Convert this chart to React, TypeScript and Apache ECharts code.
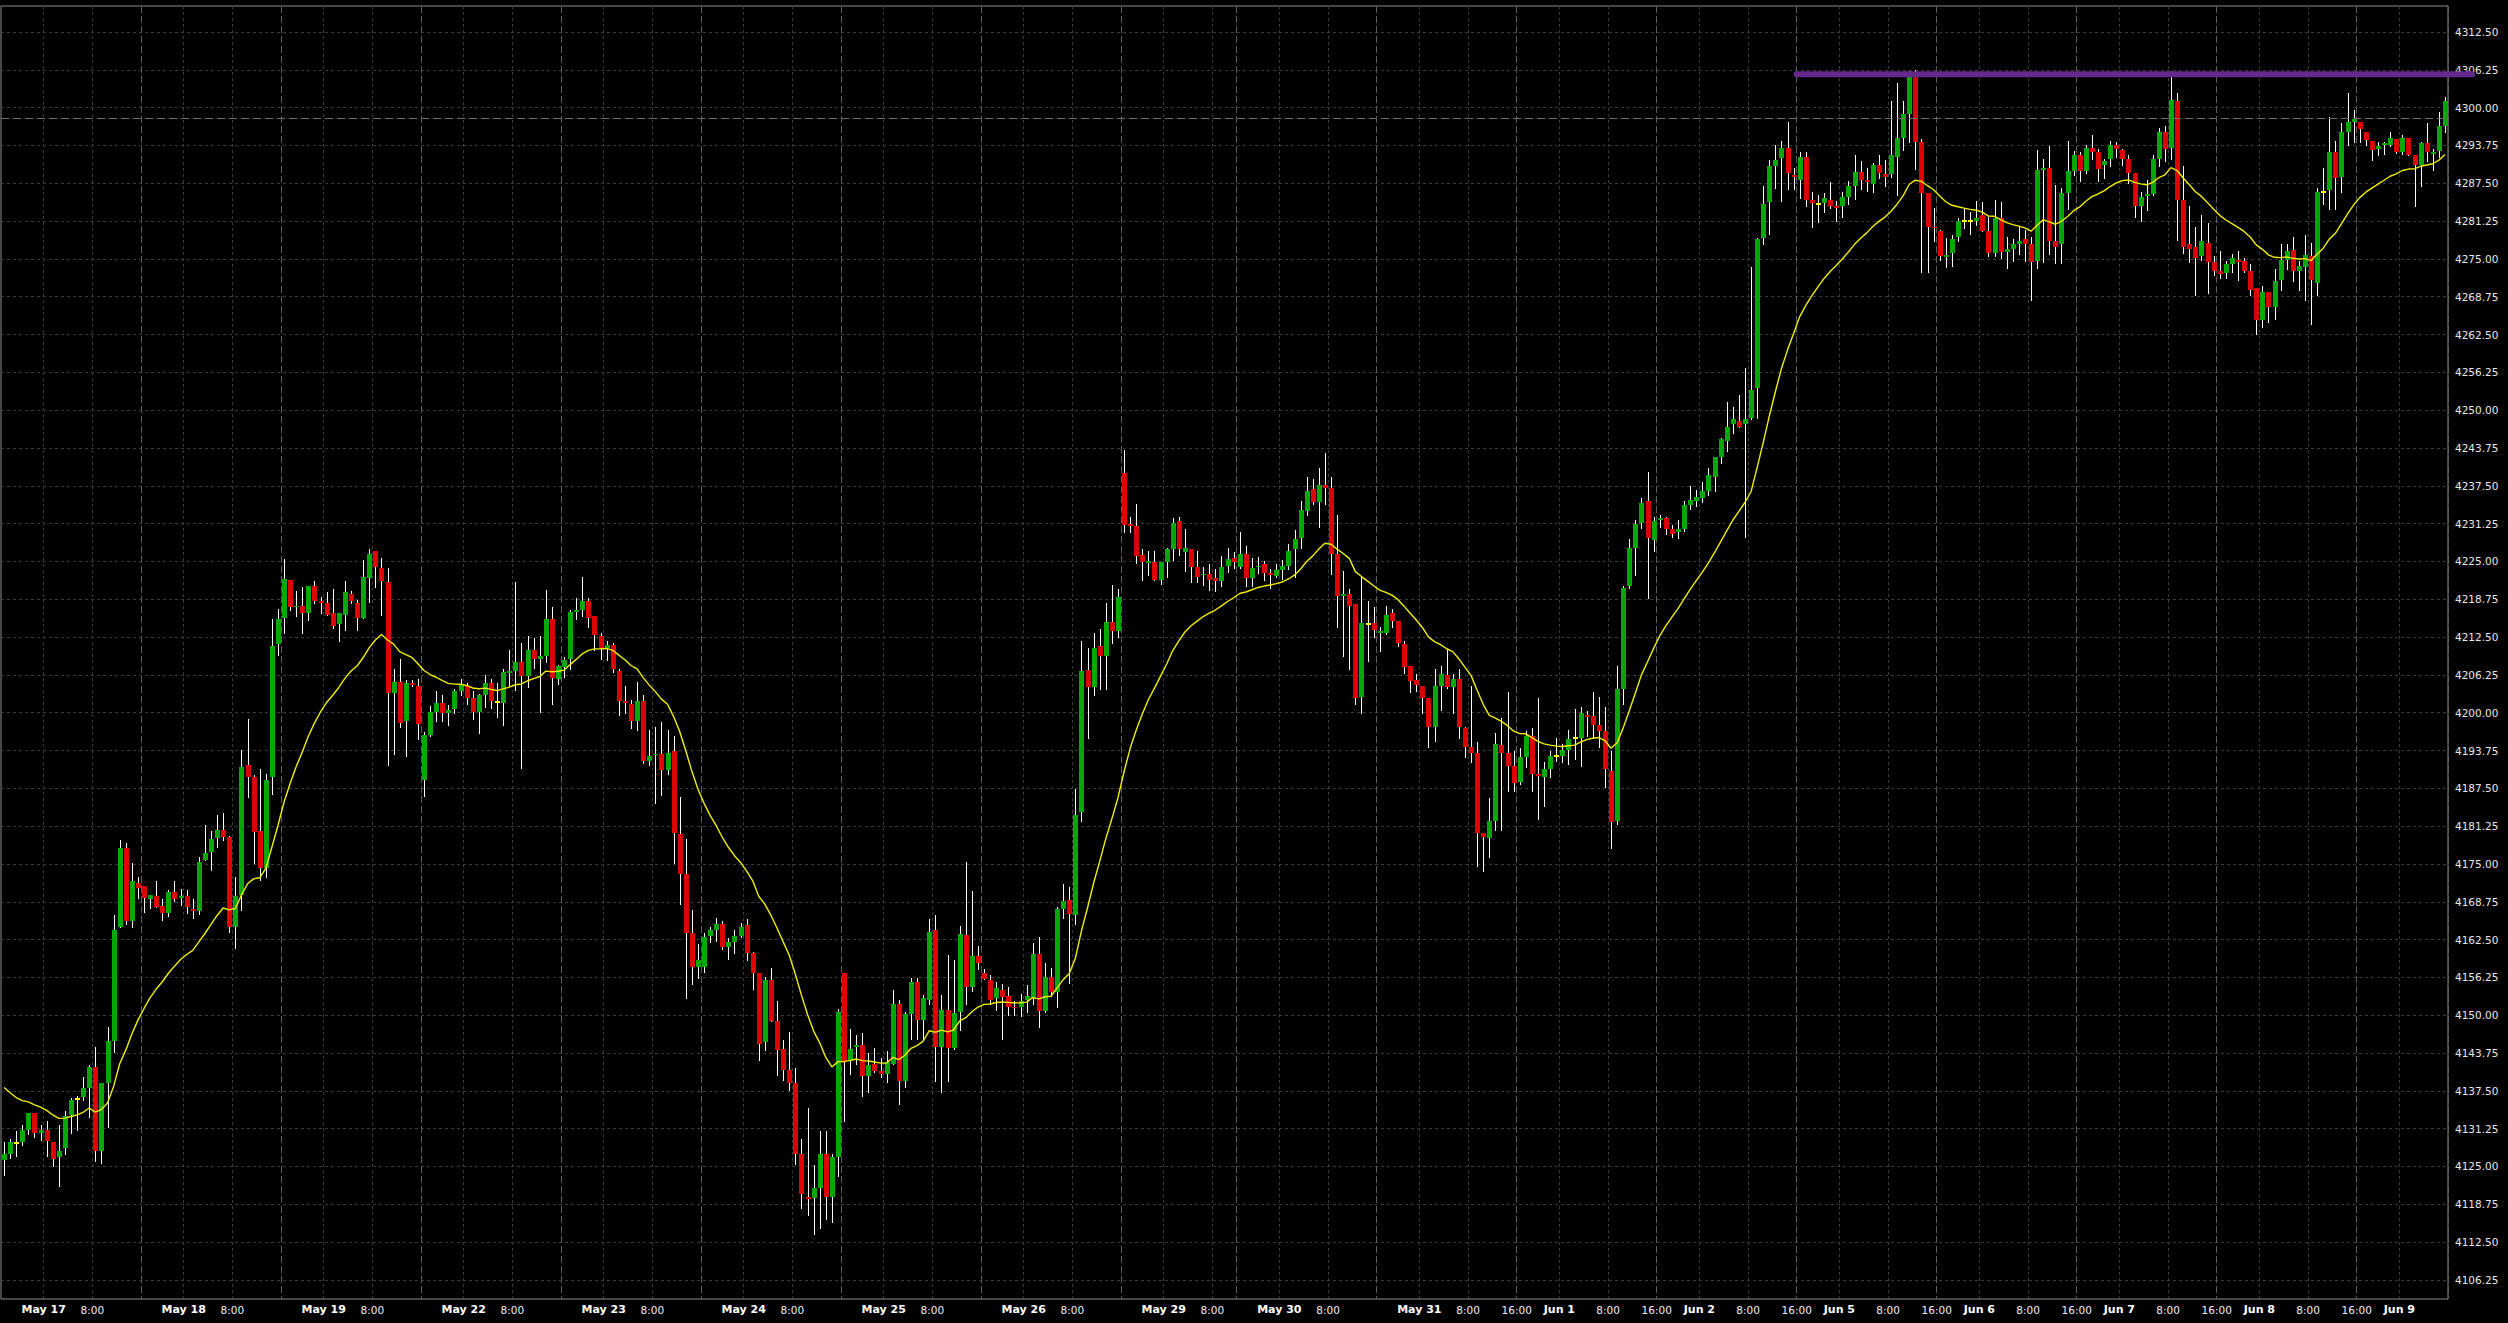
import React, { useEffect, useRef } from 'react';
import * as echarts from 'echarts';

// ---- OHLC values (hourly bars, left to right) ----
const opens = [
  4126.1, 4127.0, 4128.9, 4129.0, 4131.0, 4133.8, 4130.6, 4131.0, 4129.0, 4126.5,
  4128.1, 4133.5, 4136.1, 4136.5, 4137.9, 4141.4, 4127.5, 4138.8, 4145.7, 4164.6,
  4177.6, 4165.6, 4171.9, 4171.3, 4169.2, 4169.7, 4168.1, 4166.9, 4170.3, 4169.4,
  4169.7, 4167.6, 4167.2, 4175.7, 4176.9, 4179.3, 4180.6, 4179.4, 4164.6, 4169.9,
  4191.4, 4189.3, 4180.4, 4174.4, 4189.3, 4211.3, 4215.6, 4221.9, 4217.4, 4217.7,
  4216.5, 4221.0, 4218.4, 4218.1, 4216.4, 4214.7, 4216.1, 4219.6, 4218.1, 4215.6,
  4222.2, 4226.7, 4223.9, 4221.6, 4203.2, 4205.0, 4198.6, 4204.9, 4204.4, 4188.9,
  4196.3, 4200.1, 4201.6, 4200.0, 4200.6, 4203.6, 4204.4, 4202.4, 4200.1, 4203.0,
  4204.9, 4201.8, 4201.6, 4206.6, 4206.9, 4208.3, 4206.0, 4210.3, 4208.8, 4209.4,
  4215.5, 4205.6, 4207.6, 4208.9, 4216.6, 4217.0, 4218.5, 4215.9, 4212.7, 4210.7,
  4211.2, 4206.9, 4202.0, 4201.4, 4198.7, 4202.0, 4192.0, 4193.0, 4193.2, 4190.5,
  4193.7, 4180.0, 4173.4, 4163.6, 4157.9, 4157.9, 4163.1, 4164.1, 4165.1, 4161.2,
  4162.1, 4163.1, 4164.9, 4160.3, 4156.9, 4145.6, 4155.9, 4149.0, 4144.4, 4140.9,
  4138.8, 4127.1, 4120.0, 4119.8, 4121.4, 4127.1, 4120.0, 4126.6, 4156.9, 4142.5,
  4144.7, 4145.0, 4139.9, 4141.9, 4140.8, 4140.3, 4142.0, 4151.9, 4139.1, 4150.2,
  4155.5, 4149.2, 4152.5, 4164.1, 4144.7, 4150.9, 4144.6, 4150.5, 4163.2, 4154.7,
  4159.8, 4156.9, 4155.9, 4152.8, 4154.2, 4153.2, 4151.4, 4151.4, 4152.5, 4152.9,
  4160.1, 4150.7, 4156.4, 4153.9, 4167.5, 4169.0, 4166.6, 4183.6, 4207.1, 4204.2,
  4211.0, 4209.3, 4215.0, 4213.5, 4239.6, 4231.2, 4230.9, 4226.1, 4224.7, 4224.9,
  4222.0, 4224.9, 4227.0, 4231.7, 4226.5, 4227.0, 4224.1, 4222.7, 4223.0, 4222.2,
  4221.7, 4224.2, 4225.5, 4224.1, 4226.3, 4222.3, 4224.0, 4224.5, 4223.1, 4222.6,
  4223.6, 4224.2, 4227.0, 4228.9, 4233.3, 4237.0, 4234.8, 4237.7, 4237.1, 4226.2,
  4219.3, 4219.6, 4218.0, 4202.6, 4214.6, 4214.8, 4213.2, 4213.2, 4216.5, 4215.2,
  4211.3, 4207.7, 4205.4, 4204.4, 4202.4, 4197.7, 4204.4, 4206.2, 4204.2, 4205.6,
  4197.5, 4194.3, 4193.4, 4180.2, 4179.3, 4182.1, 4194.7, 4193.3, 4191.2, 4188.5,
  4192.7, 4196.2, 4189.9, 4189.4, 4190.7, 4192.8, 4192.8, 4193.8, 4195.8, 4195.9,
  4199.7, 4199.4, 4198.0, 4197.0, 4190.4, 4182.1, 4203.9, 4221.0, 4227.3, 4231.3,
  4235.0, 4228.5, 4231.8, 4232.2, 4230.3, 4229.8, 4230.4, 4234.4, 4235.0, 4235.5,
  4236.6, 4239.0, 4242.3, 4244.9, 4247.7, 4248.2, 4247.7, 4248.7, 4253.6, 4278.4,
  4284.4, 4290.4, 4291.6, 4293.4, 4288.9, 4288.0, 4291.9, 4284.8, 4284.1, 4284.2,
  4284.8, 4283.8, 4283.7, 4285.3, 4287.1, 4289.4, 4288.0, 4287.3, 4290.5, 4289.1,
  4289.0, 4291.9, 4295.0, 4298.9, 4305.3, 4294.4, 4285.9, 4280.3, 4279.6, 4275.3,
  4275.9, 4278.7, 4281.2, 4281.2, 4281.3, 4282.2, 4279.6, 4275.9, 4281.8, 4276.2,
  4276.6, 4277.4, 4278.3, 4277.5, 4274.7, 4289.7, 4290.1, 4277.9, 4277.4, 4285.9,
  4289.5, 4292.1, 4289.5, 4293.4, 4292.7, 4290.5, 4291.5, 4293.8, 4293.0, 4291.5,
  4289.2, 4283.7, 4285.4, 4285.7, 4291.5, 4296.0, 4293.4, 4301.1, 4284.8, 4277.4,
  4276.9, 4275.4, 4277.6, 4274.5, 4273.0, 4272.6, 4274.1, 4274.8, 4274.6, 4273.0,
  4270.2, 4264.9, 4269.5, 4267.1, 4271.5, 4274.8, 4276.5, 4273.0, 4273.6, 4275.4,
  4271.1, 4286.0, 4286.4, 4292.6, 4288.6, 4296.0, 4297.7, 4297.7, 4296.0, 4294.5,
  4293.2, 4293.8, 4293.9, 4294.8, 4292.6, 4295.0, 4292.1, 4290.5, 4294.1, 4292.3,
  4292.8, 4296.9,
];
const highs = [
  4129.0, 4129.6, 4130.8, 4131.9, 4133.9, 4133.9, 4131.9, 4132.5, 4129.0, 4131.9,
  4134.2, 4136.3, 4136.7, 4139.8, 4141.7, 4144.7, 4138.8, 4148.1, 4166.5, 4179.0,
  4178.5, 4175.2, 4172.9, 4171.3, 4169.9, 4172.2, 4169.2, 4170.7, 4172.2, 4170.8,
  4170.7, 4169.2, 4176.1, 4181.4, 4180.4, 4183.1, 4183.5, 4179.7, 4172.9, 4193.8,
  4199.0, 4189.7, 4190.7, 4189.8, 4215.5, 4217.1, 4225.4, 4221.9, 4220.1, 4220.7,
  4221.0, 4221.8, 4219.2, 4219.9, 4220.4, 4216.4, 4221.8, 4220.1, 4218.6, 4225.3,
  4227.1, 4226.7, 4225.6, 4223.9, 4207.2, 4208.9, 4205.4, 4205.4, 4205.6, 4196.8,
  4201.1, 4203.6, 4202.9, 4201.3, 4203.9, 4205.6, 4204.9, 4203.6, 4203.1, 4206.2,
  4205.6, 4204.9, 4207.3, 4210.3, 4221.6, 4211.6, 4212.6, 4212.3, 4212.7, 4220.2,
  4217.5, 4207.9, 4209.2, 4217.0, 4218.9, 4222.5, 4218.9, 4215.9, 4213.2, 4211.9,
  4211.5, 4207.2, 4204.4, 4202.1, 4205.0, 4203.0, 4197.1, 4197.6, 4198.4, 4197.1,
  4196.1, 4186.1, 4179.2, 4167.4, 4161.7, 4163.6, 4164.6, 4166.1, 4165.5, 4162.8,
  4164.1, 4165.2, 4165.9, 4160.5, 4156.9, 4156.3, 4157.8, 4152.4, 4145.9, 4147.2,
  4141.3, 4129.5, 4134.7, 4125.2, 4130.9, 4130.9, 4127.1, 4151.0, 4156.9, 4147.7,
  4146.7, 4147.0, 4143.7, 4144.6, 4142.9, 4144.1, 4154.2, 4152.5, 4150.5, 4156.2,
  4156.2, 4153.3, 4165.9, 4166.6, 4153.3, 4159.9, 4159.2, 4164.8, 4175.4, 4170.5,
  4161.5, 4157.7, 4156.7, 4155.5, 4155.2, 4154.7, 4152.4, 4153.5, 4155.0, 4162.0,
  4162.9, 4158.7, 4157.8, 4167.9, 4171.7, 4171.2, 4187.4, 4211.8, 4210.7, 4213.2,
  4213.8, 4218.2, 4221.1, 4220.4, 4243.4, 4232.4, 4234.5, 4227.0, 4226.8, 4226.8,
  4224.9, 4227.3, 4232.1, 4232.4, 4230.3, 4227.0, 4226.8, 4224.1, 4224.5, 4223.8,
  4225.9, 4227.3, 4226.5, 4229.8, 4227.5, 4225.6, 4225.8, 4225.0, 4223.7, 4224.5,
  4225.2, 4227.8, 4230.2, 4235.0, 4239.0, 4238.6, 4240.4, 4243.0, 4239.0, 4232.7,
  4223.5, 4220.4, 4218.0, 4222.4, 4218.5, 4217.5, 4214.1, 4217.7, 4217.1, 4215.2,
  4211.9, 4207.7, 4206.4, 4204.4, 4202.5, 4207.2, 4207.7, 4210.5, 4206.4, 4207.2,
  4197.6, 4204.4, 4195.1, 4180.2, 4185.9, 4196.6, 4199.2, 4203.5, 4193.7, 4194.2,
  4197.0, 4197.5, 4202.4, 4191.8, 4193.7, 4195.8, 4194.8, 4197.1, 4200.6, 4201.0,
  4200.2, 4203.5, 4202.6, 4200.9, 4193.7, 4207.7, 4220.9, 4228.7, 4231.8, 4235.5,
  4239.7, 4232.3, 4232.7, 4232.4, 4231.1, 4231.8, 4235.0, 4237.4, 4236.8, 4238.1,
  4240.5, 4242.3, 4245.4, 4251.4, 4250.6, 4252.5, 4256.9, 4273.6, 4278.4, 4287.1,
  4291.4, 4293.8, 4294.5, 4297.7, 4290.0, 4292.7, 4292.7, 4286.1, 4285.6, 4285.9,
  4287.7, 4284.5, 4286.1, 4287.9, 4292.1, 4291.1, 4290.1, 4290.8, 4292.1, 4291.4,
  4301.1, 4304.0, 4301.1, 4306.0, 4306.3, 4294.8, 4285.9, 4283.4, 4279.8, 4278.4,
  4278.9, 4281.7, 4283.4, 4282.7, 4284.6, 4284.4, 4282.0, 4284.8, 4284.4, 4278.7,
  4278.3, 4280.2, 4279.8, 4278.7, 4293.0, 4291.5, 4293.6, 4287.2, 4286.7, 4294.5,
  4292.8, 4292.7, 4293.9, 4295.4, 4293.2, 4291.5, 4294.5, 4294.4, 4293.2, 4292.1,
  4289.2, 4286.1, 4288.1, 4292.1, 4296.7, 4297.0, 4306.0, 4302.4, 4290.4, 4283.7,
  4280.2, 4282.2, 4280.9, 4275.4, 4276.3, 4274.7, 4275.8, 4276.3, 4275.1, 4274.1,
  4270.2, 4270.6, 4269.5, 4273.4, 4277.4, 4277.4, 4278.7, 4274.7, 4278.9, 4277.6,
  4286.7, 4290.0, 4298.4, 4294.5, 4297.4, 4302.4, 4299.6, 4297.7, 4296.0, 4294.5,
  4294.4, 4294.4, 4295.9, 4294.8, 4295.5, 4295.0, 4292.1, 4294.4, 4297.4, 4293.2,
  4299.3, 4301.7,
];
const lows = [
  4123.6, 4126.4, 4126.8, 4128.5, 4130.4, 4129.9, 4129.4, 4126.8, 4125.0, 4121.7,
  4127.0, 4130.6, 4131.1, 4136.0, 4133.2, 4125.9, 4125.6, 4131.5, 4144.0, 4164.6,
  4165.0, 4164.6, 4169.3, 4167.1, 4167.8, 4167.9, 4165.8, 4166.4, 4168.8, 4168.2,
  4166.9, 4166.0, 4166.8, 4175.6, 4174.0, 4177.8, 4178.9, 4163.8, 4161.1, 4167.4,
  4186.0, 4175.2, 4172.4, 4172.8, 4186.5, 4209.6, 4213.2, 4216.9, 4216.0, 4213.2,
  4215.3, 4218.1, 4216.5, 4216.1, 4214.0, 4211.8, 4213.6, 4218.1, 4213.6, 4215.6,
  4218.3, 4220.7, 4216.1, 4191.3, 4193.2, 4197.6, 4192.8, 4204.4, 4195.6, 4186.2,
  4196.1, 4198.6, 4198.6, 4198.0, 4199.9, 4202.9, 4201.4, 4198.9, 4196.6, 4201.0,
  4200.7, 4199.3, 4198.0, 4204.4, 4203.7, 4190.8, 4204.3, 4207.4, 4200.1, 4208.4,
  4201.4, 4204.7, 4205.9, 4207.3, 4215.5, 4215.9, 4214.2, 4210.3, 4208.9, 4208.7,
  4206.7, 4199.6, 4200.0, 4197.4, 4197.1, 4191.7, 4191.3, 4185.1, 4186.4, 4189.8,
  4175.2, 4168.4, 4152.9, 4155.2, 4156.2, 4157.2, 4162.1, 4162.3, 4160.9, 4159.3,
  4160.3, 4162.9, 4159.2, 4154.3, 4142.6, 4144.2, 4149.0, 4140.2, 4139.3, 4137.7,
  4125.4, 4118.2, 4117.0, 4113.9, 4114.8, 4116.4, 4115.9, 4123.5, 4132.5, 4140.3,
  4142.0, 4136.6, 4137.3, 4140.6, 4139.8, 4138.9, 4141.9, 4135.4, 4138.2, 4146.1,
  4146.1, 4146.1, 4151.9, 4139.2, 4137.3, 4139.2, 4144.4, 4147.5, 4151.8, 4154.0,
  4157.7, 4156.0, 4151.9, 4150.9, 4146.0, 4150.0, 4150.0, 4149.8, 4150.5, 4151.8,
  4148.1, 4150.5, 4153.2, 4151.4, 4166.0, 4155.3, 4165.1, 4182.1, 4195.8, 4202.9,
  4203.9, 4203.9, 4211.5, 4212.5, 4229.8, 4229.8, 4224.7, 4222.0, 4222.7, 4222.0,
  4221.3, 4222.4, 4225.2, 4226.1, 4223.5, 4221.6, 4221.6, 4221.1, 4220.3, 4220.1,
  4221.0, 4223.2, 4223.9, 4223.9, 4221.0, 4221.0, 4223.1, 4221.9, 4220.6, 4222.4,
  4222.1, 4223.7, 4222.4, 4227.2, 4232.6, 4234.5, 4230.7, 4234.5, 4223.0, 4214.1,
  4209.3, 4207.3, 4201.4, 4199.9, 4208.6, 4212.5, 4210.2, 4213.0, 4214.1, 4211.1,
  4206.6, 4203.4, 4203.6, 4199.9, 4194.3, 4195.4, 4200.4, 4204.1, 4200.0, 4195.9,
  4192.6, 4191.8, 4174.7, 4173.9, 4176.1, 4180.6, 4180.6, 4187.1, 4187.0, 4188.2,
  4191.1, 4187.1, 4182.4, 4184.5, 4189.3, 4192.1, 4191.8, 4191.6, 4192.3, 4191.2,
  4196.2, 4195.9, 4194.4, 4187.7, 4177.7, 4181.6, 4201.4, 4220.6, 4222.8, 4230.6,
  4219.0, 4226.7, 4230.7, 4229.6, 4229.1, 4228.9, 4230.0, 4233.6, 4234.2, 4234.9,
  4236.0, 4236.6, 4241.2, 4243.3, 4246.2, 4247.3, 4229.0, 4248.5, 4248.7, 4277.4,
  4279.1, 4286.7, 4284.5, 4286.6, 4286.6, 4285.0, 4283.8, 4280.3, 4281.1, 4282.7,
  4283.4, 4281.3, 4282.0, 4284.0, 4284.9, 4286.6, 4286.2, 4286.1, 4288.3, 4287.0,
  4288.6, 4285.6, 4293.0, 4294.4, 4289.9, 4272.8, 4272.8, 4277.9, 4274.8, 4273.7,
  4273.9, 4277.9, 4280.1, 4279.2, 4280.6, 4279.6, 4275.4, 4275.4, 4275.1, 4273.5,
  4274.7, 4275.8, 4274.7, 4268.2, 4273.5, 4274.5, 4275.8, 4274.3, 4274.3, 4283.3,
  4288.9, 4287.9, 4289.2, 4291.5, 4287.8, 4288.3, 4290.3, 4291.9, 4290.5, 4287.5,
  4282.0, 4281.2, 4283.1, 4285.6, 4290.3, 4291.2, 4291.5, 4278.1, 4275.9, 4274.5,
  4269.1, 4274.8, 4269.3, 4272.4, 4271.9, 4271.9, 4272.8, 4271.5, 4272.8, 4269.1,
  4262.6, 4263.7, 4264.5, 4265.1, 4269.9, 4273.4, 4271.3, 4269.9, 4268.2, 4264.2,
  4269.1, 4284.0, 4283.3, 4283.3, 4286.1, 4293.9, 4294.4, 4294.4, 4293.9, 4291.4,
  4292.2, 4292.3, 4293.6, 4292.5, 4292.3, 4292.1, 4283.7, 4287.1, 4291.1, 4289.7,
  4291.9, 4295.9,
];
const closes = [
  4127.1, 4129.0, 4128.9, 4131.0, 4133.8, 4130.6, 4131.1, 4129.2, 4126.3, 4127.6,
  4133.3, 4136.0, 4136.1, 4137.9, 4141.4, 4127.5, 4138.8, 4145.7, 4164.1, 4177.6,
  4165.6, 4172.2, 4171.0, 4169.4, 4169.9, 4167.9, 4166.9, 4170.3, 4169.2, 4169.7,
  4167.9, 4167.2, 4175.3, 4176.8, 4179.2, 4180.6, 4179.4, 4164.6, 4169.7, 4191.1,
  4189.3, 4180.3, 4174.4, 4188.9, 4211.1, 4215.5, 4222.1, 4217.4, 4217.7, 4216.5,
  4221.0, 4218.5, 4218.1, 4216.1, 4214.4, 4216.4, 4219.9, 4218.5, 4215.6, 4222.4,
  4226.3, 4224.0, 4221.7, 4203.2, 4205.0, 4198.3, 4204.9, 4204.6, 4198.2, 4196.3,
  4200.1, 4201.6, 4200.0, 4200.4, 4203.6, 4204.6, 4202.5, 4200.1, 4202.9, 4204.9,
  4201.9, 4201.8, 4206.8, 4206.9, 4208.3, 4206.0, 4210.3, 4208.9, 4209.3, 4215.5,
  4205.7, 4207.7, 4208.7, 4216.6, 4217.0, 4218.5, 4215.7, 4212.9, 4210.7, 4211.2,
  4207.3, 4202.0, 4201.6, 4198.7, 4202.0, 4192.0, 4192.8, 4193.2, 4190.5, 4193.3,
  4180.1, 4173.4, 4163.6, 4157.9, 4159.2, 4162.9, 4164.1, 4165.1, 4161.3, 4162.1,
  4163.1, 4164.6, 4160.3, 4156.9, 4145.2, 4155.9, 4149.0, 4144.2, 4140.9, 4138.8,
  4127.1, 4120.4, 4119.7, 4121.4, 4127.0, 4120.0, 4126.6, 4150.6, 4142.5, 4144.4,
  4145.0, 4139.9, 4141.8, 4140.8, 4140.3, 4142.2, 4151.9, 4139.1, 4150.2, 4155.5,
  4149.2, 4152.8, 4163.8, 4144.7, 4150.9, 4144.6, 4150.4, 4163.4, 4154.7, 4159.8,
  4158.7, 4156.0, 4152.5, 4154.5, 4153.0, 4151.4, 4151.2, 4152.3, 4153.2, 4160.1,
  4150.7, 4156.4, 4153.9, 4167.5, 4168.9, 4166.7, 4183.1, 4206.9, 4204.2, 4210.7,
  4209.3, 4215.0, 4213.5, 4219.1, 4231.0, 4230.9, 4225.9, 4224.9, 4225.0, 4222.0,
  4224.9, 4227.0, 4231.4, 4227.0, 4227.3, 4224.1, 4222.5, 4223.0, 4222.0, 4221.7,
  4224.1, 4225.4, 4224.9, 4226.3, 4222.3, 4223.9, 4224.3, 4223.1, 4222.7, 4223.6,
  4224.2, 4226.8, 4228.7, 4233.5, 4236.7, 4234.8, 4237.7, 4237.1, 4226.3, 4219.3,
  4219.6, 4217.7, 4202.5, 4214.8, 4214.6, 4213.7, 4213.5, 4216.2, 4215.2, 4211.5,
  4207.5, 4205.2, 4204.6, 4202.5, 4197.7, 4204.4, 4206.4, 4204.2, 4205.6, 4197.6,
  4194.3, 4193.4, 4180.2, 4179.5, 4182.1, 4194.9, 4193.3, 4191.2, 4188.3, 4192.7,
  4196.2, 4189.9, 4189.5, 4190.7, 4192.9, 4192.8, 4193.8, 4195.6, 4195.8, 4199.9,
  4199.3, 4198.0, 4197.0, 4190.7, 4182.0, 4203.9, 4220.6, 4227.2, 4231.2, 4234.7,
  4228.9, 4231.7, 4232.2, 4230.3, 4229.5, 4230.4, 4234.3, 4235.2, 4235.6, 4236.6,
  4239.3, 4242.3, 4245.2, 4247.3, 4248.6, 4247.3, 4248.6, 4253.4, 4278.3, 4284.1,
  4290.4, 4291.4, 4293.4, 4289.2, 4288.6, 4291.9, 4284.8, 4284.2, 4284.1, 4285.1,
  4283.7, 4283.4, 4285.3, 4287.1, 4289.4, 4288.0, 4287.7, 4290.5, 4289.2, 4288.6,
  4292.1, 4295.0, 4298.9, 4305.3, 4294.4, 4285.9, 4280.3, 4280.1, 4275.4, 4275.6,
  4278.3, 4281.3, 4281.2, 4281.2, 4281.8, 4279.6, 4275.9, 4281.8, 4276.1, 4276.6,
  4277.4, 4278.0, 4277.4, 4274.5, 4289.7, 4290.1, 4277.9, 4277.0, 4285.9, 4289.5,
  4292.1, 4289.5, 4293.4, 4292.6, 4289.8, 4291.1, 4293.8, 4293.2, 4291.5, 4289.2,
  4283.7, 4285.3, 4285.7, 4291.5, 4296.0, 4293.2, 4301.3, 4284.8, 4277.0, 4276.7,
  4275.1, 4277.9, 4274.5, 4273.0, 4272.5, 4274.1, 4275.1, 4274.5, 4273.0, 4269.9,
  4264.9, 4269.6, 4267.1, 4271.4, 4274.8, 4276.3, 4273.0, 4273.9, 4275.6, 4271.5,
  4286.1, 4286.0, 4292.6, 4288.4, 4296.0, 4297.7, 4298.1, 4296.5, 4294.6, 4293.0,
  4293.6, 4294.1, 4295.0, 4292.6, 4295.0, 4292.2, 4290.5, 4294.1, 4292.6, 4292.6,
  4296.9, 4301.1,
];

// ---- time axis: day labels and their bar positions ----
const dayNames = ['May 17', 'May 18', 'May 19', 'May 22', 'May 23', 'May 24', 'May 25', 'May 26', 'May 29',
  'May 30', 'May 31', 'Jun 1', 'Jun 2', 'Jun 5', 'Jun 6', 'Jun 7', 'Jun 8', 'Jun 9'];
const dayStartIndex = [7, 30, 53, 76, 99, 122, 145, 168, 191, 210, 233, 256, 279, 302, 325, 348, 371, 394];
const hour8Index = [15, 38, 61, 84, 107, 130, 153, 176, 199, 218, 241, 264, 287, 310, 333, 356, 379];
const hour16LabelIndex = [249, 272, 295, 318, 341, 364, 387];
const sessionIndex = [23, 46, 69, 92, 115, 138, 161, 184, 203, 226, 249, 272, 295, 318, 341, 364, 387];

// ---- price axis ticks ----
const yTicks = [4106.25, 4112.5, 4118.75, 4125, 4131.25, 4137.5, 4143.75, 4150, 4156.25, 4162.5, 4168.75,
  4175, 4181.25, 4187.5, 4193.75, 4200, 4206.25, 4212.5, 4218.75, 4225, 4231.25, 4237.5, 4243.75, 4250,
  4256.25, 4262.5, 4268.75, 4275, 4281.25, 4287.5, 4293.75, 4300, 4306.25, 4312.5];
const yMin = 4103.1;
const yMax = 4316.8;

// ---- indicator / objects ----
const emaPeriod = 20;
const emaSeed = 4139.2;
const resistanceLevel = 4305.5;
const resistanceStartIndex = 295;
const bidLevel = 4298.25;

const GREEN = '#05a805';
const RED = '#de0000';
const FONT = 'DejaVu Sans';

export default function App() {
  const ref = useRef<HTMLDivElement>(null);

  useEffect(() => {
    if (!ref.current) return;
    const chart = echarts.init(ref.current, null, { renderer: 'svg' });
    const n = closes.length;
    const cats = closes.map((_, i) => String(i));
    const labels: string[] = new Array(n).fill('');
    dayStartIndex.forEach((idx, k) => { if (idx < n) labels[idx] = '{d|' + dayNames[k] + '}'; });
    hour8Index.forEach((idx) => { if (idx < n) labels[idx] = '{t|8:00}'; });
    hour16LabelIndex.forEach((idx) => { if (idx < n) labels[idx] = '{t|16:00}'; });
    const minorSet = new Set<number>([...dayStartIndex, ...hour8Index]);
    const majorSet = new Set<number>(sessionIndex);

    const k = 2 / (emaPeriod + 1);
    let prev = emaSeed;
    const ema = closes.map((c) => { prev = prev + k * (c - prev); return Math.round(prev * 100) / 100; });

    const candleData = opens.map((o, i) => [i, o, closes[i], lows[i], highs[i]]);

    const option: any = {
      animation: false,
      backgroundColor: '#000000',
      textStyle: { fontFamily: FONT },
      grid: {
        left: 1, right: 60, top: 6, bottom: 24,
        show: true, backgroundColor: '#000000', borderColor: '#8c8c8c', borderWidth: 1,
      },
      xAxis: [
        {
          type: 'category',
          data: cats,
          boundaryGap: true,
          axisLine: { show: false },
          axisTick: { show: false },
          axisLabel: {
            interval: (i: number) => labels[i] !== '',
            formatter: (_v: string, i: number) => labels[i],
            margin: 5,
            padding: [0, 6, 0, 0],
            color: '#ffffff',
            rich: {
              d: { fontFamily: FONT, fontSize: 11, fontWeight: 'bold', color: '#ffffff' },
              t: { fontFamily: FONT, fontSize: 10.5, color: '#f0f0f0' },
            },
          },
          splitLine: {
            show: true,
            interval: (i: number) => minorSet.has(i),
            lineStyle: { color: '#3a3a3a', width: 1, type: [3, 3] },
          },
        },
        {
          type: 'category',
          data: cats,
          boundaryGap: true,
          position: 'top',
          axisLine: { show: false },
          axisTick: { show: false },
          axisLabel: { show: false },
          splitLine: {
            show: true,
            interval: (i: number) => majorSet.has(i),
            lineStyle: { color: '#5c5c5c', width: 1, type: [7, 3] },
          },
        },
      ],
      yAxis: {
        type: 'value',
        position: 'right',
        min: yMin,
        max: yMax,
        axisLine: { show: false },
        axisTick: { show: false, customValues: yTicks },
        axisLabel: {
          customValues: yTicks,
          formatter: (v: number) => v.toFixed(2),
          color: '#e8e8e8',
          fontFamily: FONT,
          fontSize: 10.5,
          margin: 7,
        },
        splitLine: { show: true, lineStyle: { color: '#3a3a3a', width: 1, type: [3, 3] } },
      },
      series: [
        {
          type: 'line',
          name: 'bid',
          data: ema,
          symbol: 'none',
          lineStyle: { opacity: 0 },
          silent: true,
          z: 1,
          markLine: {
            silent: true,
            symbol: ['none', 'none'],
            label: { show: false },
            lineStyle: { color: '#6e6e6e', width: 1, type: [8, 4] },
            data: [{ yAxis: bidLevel }],
          },
        },
        {
          type: 'custom',
          name: 'candles',
          data: candleData,
          encode: { x: 0, y: [1, 2, 3, 4] },
          clip: true,
          z: 2,
          renderItem: (_params: any, api: any) => {
            const i = api.value(0);
            const o = api.value(1);
            const c = api.value(2);
            const lo = api.value(3);
            const hi = api.value(4);
            const pO = api.coord([i, o]);
            const pC = api.coord([i, c]);
            const pL = api.coord([i, lo]);
            const pH = api.coord([i, hi]);
            const cx = Math.round(pO[0]);
            const children: any[] = [
              {
                type: 'line',
                shape: { x1: cx + 0.5, y1: Math.round(pH[1]), x2: cx + 0.5, y2: Math.round(pL[1]) + 1 },
                style: { stroke: '#ffffff', lineWidth: 1 },
              },
            ];
            if (o === c) {
              children.push({
                type: 'rect',
                shape: { x: cx - 2, y: Math.round(pO[1]) - 1, width: 5, height: 2 },
                style: { fill: '#ffff00' },
              });
            } else {
              const top = Math.round(Math.min(pO[1], pC[1]));
              const bot = Math.round(Math.max(pO[1], pC[1]));
              children.push({
                type: 'rect',
                shape: { x: cx - 2, y: top, width: 5, height: Math.max(1, bot - top) },
                style: { fill: c > o ? GREEN : RED },
              });
            }
            return { type: 'group', children };
          },
        },
        {
          type: 'line',
          name: 'EMA 20',
          data: ema,
          symbol: 'none',
          smooth: false,
          silent: true,
          z: 3,
          lineStyle: { color: '#f0ee00', width: 1.4 },
        },
      ],
    };
    chart.setOption(option);

    const toX = (i: number) => chart.convertToPixel({ xAxisIndex: 0 }, i) as number;
    const xa = toX(resistanceStartIndex - 1);
    const xb = toX(resistanceStartIndex);
    const band = xb - xa;
    const xStart = xb - band / 2;
    const xEnd = toX(n - 1) + band / 2 + 24;
    const yLvl = chart.convertToPixel({ yAxisIndex: 0 }, resistanceLevel) as number;
    chart.setOption({
      graphic: [
        {
          type: 'line',
          z: 100,
          silent: true,
          shape: { x1: xStart, y1: yLvl, x2: xEnd, y2: yLvl },
          style: { stroke: '#66288c', lineWidth: 6, lineCap: 'round' },
        },
      ],
    });

    return () => chart.dispose();
  }, []);

  return (
    <div
      ref={ref}
      style={{ position: 'fixed', left: 0, top: 0, width: 2508, height: 1323, background: '#000000' }}
    />
  );
}
